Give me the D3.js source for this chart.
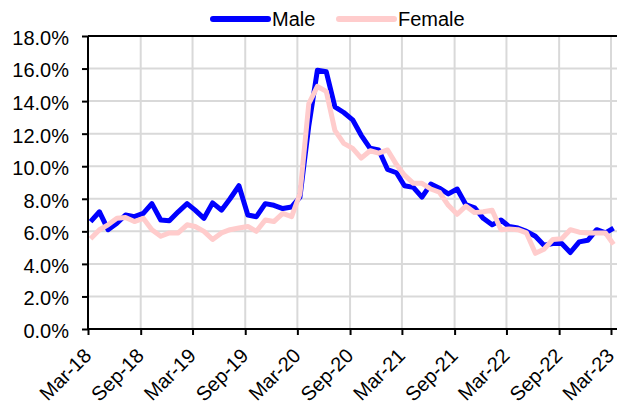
<!DOCTYPE html>
<html lang="en">
<head>
  <meta charset="UTF-8" />
  <title>Male / Female rate</title>
  <style>
    body { margin: 0; padding: 0; background: #fff; }
    svg { display: block; font-family: "Liberation Sans", Arial, sans-serif; }
    .grid line { stroke: #d9d9d9; stroke-width: 2; }
    .axis path, .axis line { stroke: #000; stroke-width: 2; }
    .axis text { font-size: 20px; fill: #000; }
  </style>
</head>
<body>
<svg id="chart" width="618" height="404"></svg>

<script src="https://d3js.org/d3.v7.min.js"></script>
<script>
  // monthly values, Mar-18 .. Mar-23 (%)
  const male = [
    6.6, 7.2, 6.1, 6.5, 7.0, 6.9, 7.1, 7.7, 6.7, 6.65,
    7.2, 7.7, 7.3, 6.8, 7.75, 7.3, 8.0, 8.8, 7.0, 6.9,
    7.7, 7.6, 7.4, 7.5, 8.1, 12.5, 15.9, 15.8, 13.65, 13.3,
    12.85, 11.9, 11.1, 11.0, 9.8, 9.6, 8.8, 8.7, 8.1, 8.9,
    8.65, 8.3, 8.6, 7.65, 7.45, 6.8, 6.4, 6.7, 6.3, 6.2,
    6.0, 5.7, 5.15, 5.25, 5.25, 4.7, 5.35, 5.45, 6.1, 5.9, 6.2
  ];
  const female = [
    5.55, 6.1, 6.4, 6.8, 6.85, 6.6, 6.8, 6.1, 5.7, 5.9,
    5.9, 6.4, 6.3, 6.0, 5.5, 5.9, 6.1, 6.2, 6.3, 6.0,
    6.7, 6.6, 7.1, 6.9, 8.3, 13.85, 14.9, 14.6, 12.2, 11.4,
    11.1, 10.5, 10.95, 10.8, 11.0, 10.1, 9.45, 8.95, 8.95, 8.6,
    8.4, 7.6, 7.05, 7.55, 7.15, 7.2, 7.3, 6.1, 6.15, 6.1,
    5.9, 4.65, 4.9, 5.5, 5.55, 6.1, 5.95, 5.9, 5.9, 5.9, 5.2
  ];
  const tickLabels = ["Mar-18", "Sep-18", "Mar-19", "Sep-19", "Mar-20", "Sep-20",
                      "Mar-21", "Sep-21", "Mar-22", "Sep-22", "Mar-23"];
  const yTicks = [0, 2, 4, 6, 8, 10, 12, 14, 16, 18];
  const series = [
    { name: "Male", values: male, color: "#0000ff" },
    { name: "Female", values: female, color: "#ffcccc" }
  ];

  const svg = d3.select("#chart");
  const margin = { top: 36, left: 88 };
  const plotW = 529, plotH = 293;

  const parse = d3.timeParse("%b-%y");
  const tickDates = tickLabels.map(parse);
  // data sit a little after the 1st of each month
  const dates = male.map((_, i) => new Date(2018, 2 + i, 10));

  const x = d3.scaleTime()
    .domain([new Date(2018, 2, 1), new Date(2023, 2, 22)])
    .range([0, plotW]);
  const y = d3.scaleLinear().domain([0, 18]).range([plotH, 0]);

  const g = svg.append("g").attr("transform", `translate(${margin.left},${margin.top})`);

  // gridlines
  g.append("g").attr("class", "grid")
    .selectAll("line").data(yTicks.slice(1)).join("line")
    .attr("x1", 0).attr("x2", plotW)
    .attr("y1", d => y(d)).attr("y2", d => y(d));
  g.append("g").attr("class", "grid")
    .selectAll("line").data(tickDates.slice(1)).join("line")
    .attr("x1", d => x(d)).attr("x2", d => x(d))
    .attr("y1", 0).attr("y2", plotH);

  // lines (female drawn on top)
  const line = d3.line()
    .x((d, i) => x(dates[i]))
    .y(d => y(d));
  g.append("clipPath").attr("id", "clip")
    .append("rect").attr("width", plotW + 4).attr("height", plotH);
  const lines = g.append("g").attr("clip-path", "url(#clip)");
  series.forEach(s => {
    lines.append("path")
      .datum(s.values)
      .attr("fill", "none")
      .attr("stroke", s.color)
      .attr("stroke-width", 5)
      .attr("stroke-linejoin", "round")
      .attr("d", line);
  });

  // top border
  g.append("line").attr("x1", 0).attr("x2", plotW).attr("y1", 0).attr("y2", 0)
    .attr("stroke", "#000").attr("stroke-width", 2);

  // axes
  g.append("g").attr("class", "axis")
    .call(d3.axisLeft(y).tickValues(yTicks).tickSize(6).tickPadding(13)
      .tickFormat(d => d.toFixed(1) + "%"))
    .call(a => a.select(".domain").attr("d", `M0,${plotH}V0`))
    .selectAll("text").attr("dy", "0.42em");

  g.append("g").attr("class", "axis")
    .attr("transform", `translate(0,${plotH})`)
    .call(d3.axisBottom(x).tickValues(tickDates).tickSize(6)
      .tickFormat(d3.timeFormat("%b-%y")))
    .call(a => a.select(".domain").attr("d", `M0,0H${plotW}`))
    .selectAll("text")
      .attr("text-anchor", "end")
      .attr("dy", null)
      .attr("y", 0)
      .attr("transform", "translate(4,28) rotate(-45)");

  // legend
  const legend = svg.append("g").attr("transform", "translate(213,19)");
  const legX = [0, 126];
  series.forEach((s, i) => {
    const lg = legend.append("g").attr("transform", `translate(${legX[i]},0)`);
    lg.append("line").attr("x1", 0).attr("x2", 55).attr("y1", 0).attr("y2", 0)
      .attr("stroke", s.color).attr("stroke-width", 6).attr("stroke-linecap", "round");
    lg.append("text").attr("x", 59).attr("y", 7)
      .attr("font-size", 20).text(s.name);
  });
</script>
</body>
</html>
